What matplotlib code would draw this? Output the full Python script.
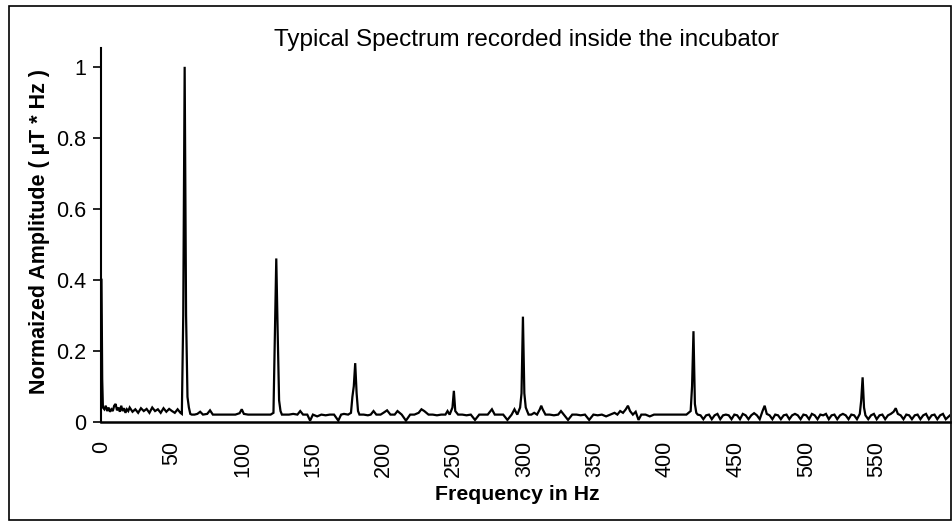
import matplotlib
matplotlib.use("Agg")
import matplotlib.pyplot as plt
import numpy as np
from matplotlib.patches import Rectangle

plt.rcParams['font.family'] = ['Liberation Sans', 'DejaVu Sans']

TITLE = "Typical Spectrum recorded inside the incubator"
X_LABEL = "Frequency in Hz"
Y_LABEL = "Normaized Amplitude ( \u00b5T * Hz )"
X_TICKS = list(range(0, 551, 50))
Y_TICKS = [0, 0.2, 0.4, 0.6, 0.8, 1]
Y_TICK_LABELS = ["0", "0.2", "0.4", "0.6", "0.8", "1"]

# spectrum, in pieces
freq_a = [0, 0.5, 1, 2, 3, 4, 5, 6, 7, 8, 9, 10, 11, 12, 13, 14, 15, 16, 17, 18, 19, 20,
          22, 24, 26, 28, 30, 32, 34, 36, 38, 40, 42, 44, 46, 48, 50, 52, 54, 56, 57,
          58, 59, 60, 61, 62, 63, 64]
amp_a = [0.40, 0.12, 0.04, 0.035, 0.045, 0.03, 0.04, 0.028, 0.035, 0.03, 0.045, 0.05,
         0.032, 0.04, 0.028, 0.045, 0.03, 0.038, 0.025, 0.035, 0.03, 0.04, 0.028, 0.035,
         0.025, 0.038, 0.03, 0.036, 0.025, 0.04, 0.03, 0.035, 0.025, 0.038, 0.028, 0.036,
         0.03, 0.025, 0.035, 0.025, 0.022, 0.30, 1.0, 0.30, 0.07, 0.04, 0.022, 0.02]

freq_b = [66, 68, 70, 72, 75, 77, 79, 82, 88, 95, 98, 99.5, 101, 104, 110, 115, 120,
          122, 123, 124, 125, 126, 127, 128]
amp_b = [0.02, 0.022, 0.028, 0.02, 0.022, 0.032, 0.02, 0.02, 0.02, 0.02, 0.024, 0.035,
         0.022, 0.02, 0.02, 0.02, 0.02, 0.025, 0.25, 0.46, 0.25, 0.06, 0.03, 0.02]

freq_c = [130, 133, 136, 139, 141, 143, 146, 148, 150, 153, 156, 159, 162, 165, 168, 170,
          172, 175, 177, 178, 179, 180, 181, 182, 183]
amp_c = [0.02, 0.02, 0.022, 0.02, 0.03, 0.02, 0.02, 0.003, 0.02, 0.015, 0.02, 0.018,
         0.02, 0.02, 0.003, 0.02, 0.022, 0.02, 0.025, 0.07, 0.1, 0.165, 0.08, 0.03, 0.02]

freq_d = [186, 189, 191, 193, 195, 198, 200, 202.6, 205, 208, 210, 213, 216, 219, 222,
          225, 227, 229, 232, 235, 238, 241, 244, 245.5, 247, 249, 250, 251, 253, 256, 259,
          262, 265, 268, 271, 274, 277, 279, 282, 285, 288, 291, 293, 295, 297, 298, 299,
          300, 301, 302, 303]
amp_d = [0.02, 0.018, 0.02, 0.03, 0.02, 0.02, 0.025, 0.032, 0.02, 0.02, 0.03, 0.02,
         0.003, 0.02, 0.02, 0.025, 0.035, 0.03, 0.02, 0.02, 0.018, 0.02, 0.02, 0.03, 0.02,
         0.04, 0.087, 0.03, 0.02, 0.02, 0.018, 0.02, 0.005, 0.02, 0.02, 0.02, 0.035, 0.02,
         0.02, 0.02, 0.005, 0.02, 0.035, 0.02, 0.04, 0.08, 0.296, 0.08, 0.04, 0.03, 0.02]

freq_e = [305, 307, 309, 311, 312, 313, 315, 318, 321, 324, 326, 328, 331, 334, 337, 340,
          343, 346, 349, 352, 355, 358, 361, 364, 366, 368, 370, 372, 373.5, 375, 377, 379,
          381, 383, 386, 389, 392, 395, 400, 405, 410, 415, 418, 419, 420, 421, 422, 423]
amp_e = [0.02, 0.025, 0.02, 0.035, 0.045, 0.035, 0.02, 0.02, 0.018, 0.02, 0.03, 0.02,
         0.005, 0.02, 0.02, 0.018, 0.02, 0.005, 0.02, 0.018, 0.02, 0.015, 0.02, 0.025, 0.02,
         0.03, 0.025, 0.035, 0.045, 0.03, 0.02, 0.028, 0.005, 0.02, 0.02, 0.015, 0.02, 0.02,
         0.02, 0.02, 0.02, 0.02, 0.03, 0.1, 0.255, 0.05, 0.025, 0.02]

freq_f = [425, 427, 429, 431, 433, 435, 437, 439, 441, 443, 445, 447, 449, 451, 453, 455,
          457, 459, 461, 463, 465, 467, 469, 470.5, 472, 474, 476, 478, 480, 482, 484, 486,
          488, 490, 492, 494, 496, 498, 500, 502, 504, 506, 508, 510, 512, 514, 516, 518,
          520, 522, 524, 526, 528, 530, 532, 534, 536, 538, 539, 540, 541, 542]
amp_f = [0.018, 0.007, 0.018, 0.02, 0.007, 0.018, 0.022, 0.007, 0.018, 0.02, 0.018, 0.007,
         0.02, 0.018, 0.007, 0.022, 0.018, 0.007, 0.018, 0.024, 0.018, 0.007, 0.03, 0.045,
         0.022, 0.018, 0.007, 0.02, 0.018, 0.007, 0.018, 0.02, 0.007, 0.018, 0.022, 0.018,
         0.007, 0.02, 0.018, 0.007, 0.022, 0.018, 0.007, 0.02, 0.018, 0.022, 0.007, 0.018,
         0.02, 0.007, 0.018, 0.022, 0.018, 0.007, 0.02, 0.018, 0.007, 0.022, 0.06, 0.125,
         0.04, 0.018]

freq_g = [544, 546, 548, 550, 552, 554, 556, 558, 560, 562, 563.5, 565, 567, 569, 571,
          573, 575, 577, 579, 581, 583, 585, 587, 589, 591, 593, 595, 597, 599, 602]
amp_g = [0.007, 0.018, 0.022, 0.007, 0.018, 0.02, 0.007, 0.018, 0.022, 0.028, 0.038,
         0.022, 0.018, 0.007, 0.02, 0.018, 0.007, 0.018, 0.02, 0.007, 0.018, 0.022, 0.007,
         0.018, 0.02, 0.007, 0.018, 0.022, 0.007, 0.018]

freq = np.concatenate([freq_a, freq_b, freq_c, freq_d, freq_e, freq_f, freq_g])
amp = np.concatenate([amp_a, amp_b, amp_c, amp_d, amp_e, amp_f, amp_g])

fig = plt.figure(figsize=(9.53, 5.23), dpi=100)
ax = fig.add_axes([101.5 / 953, 1 - 421.7 / 523, (950 - 101.5) / 953, (421.7 - 48) / 523])

ax.plot(freq, amp, color='black', lw=1.6, solid_joinstyle='miter')
ax.set_xlim(0, 602)
ax.set_ylim(0, 1.053)

for side in ['top', 'right']:
    ax.spines[side].set_visible(False)
ax.spines['left'].set_linewidth(1.5)
ax.spines['bottom'].set_linewidth(1.8)

ax.set_yticks(Y_TICKS)
ax.set_yticklabels(Y_TICK_LABELS, fontsize=15.5)
ax.tick_params(axis='y', direction='out', length=6, width=1.2, pad=5)
ax.set_xticks(X_TICKS)
ax.set_xticklabels([str(t) for t in X_TICKS], rotation=90, fontsize=15.5)
ax.tick_params(axis='x', length=0, pad=14)

fig.text(40 / 953, 1 - 231 / 523, Y_LABEL, rotation=90, ha='center', va='center',
         fontsize=15.5, fontweight='bold')
fig.text(517 / 953, 1 - 495 / 523, X_LABEL, ha='center', va='center',
         fontsize=15.3, fontweight='bold')
fig.text(526 / 953, 1 - 40 / 523, TITLE, ha='center', va='center', fontsize=17.5)

fig.patches.append(Rectangle((9 / 953, 3 / 523), 942 / 953, 514 / 523,
                             transform=fig.transFigure, fill=False, lw=1.2,
                             edgecolor='black'))

fig.savefig("out.png", dpi=100)
